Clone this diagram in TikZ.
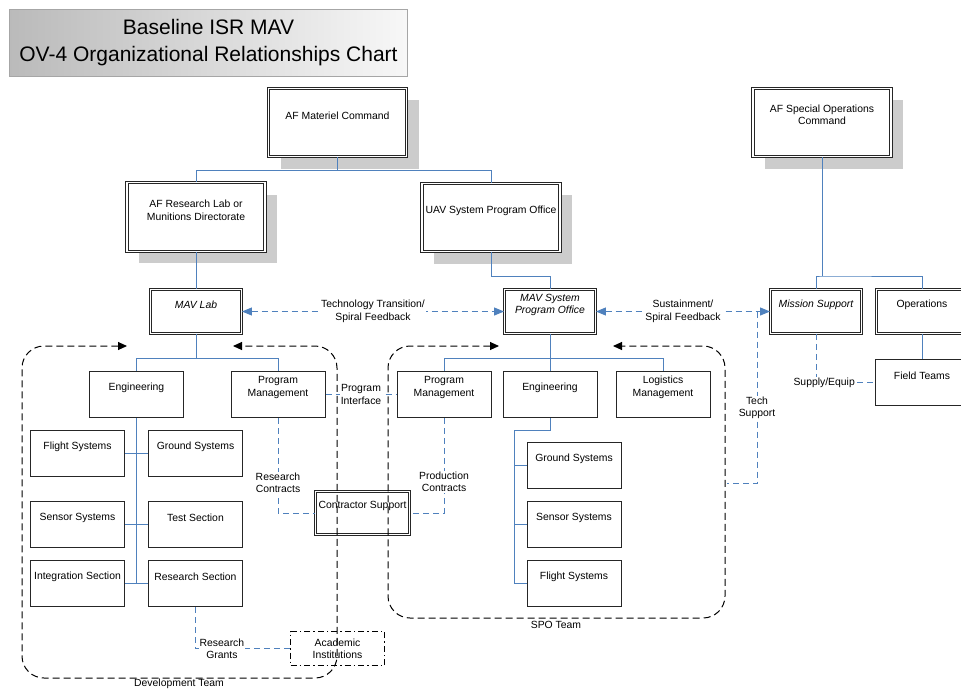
\documentclass[tikz,border=0pt]{standalone}
\usepackage{fontspec}
\setmainfont{Liberation Sans}
\usetikzlibrary{arrows.meta,shadows}
\definecolor{orgblue}{RGB}{79,129,189}
\definecolor{shadowgray}{RGB}{204,204,204}
\begin{document}
\begin{tikzpicture}[x=1pt,y=-1pt,
 every node/.style={font=\fontsize{10.4}{12.4}\selectfont},
 txt/.style={anchor=center, align=center, inner sep=0pt},
 ittxt/.style={txt, font=\fontsize{10.4}{12.4}\selectfont\itshape},
 dbl/.style={draw=black!85, line width=0.9pt, double=white, double distance=1.3pt, fill=white, inner sep=0pt},
 bigbox/.style={dbl, minimum width=138pt, minimum height=68.5pt, drop shadow={shadow xshift=12pt, shadow yshift=-12pt, fill=shadowgray, opacity=1}},
 midbox/.style={dbl, minimum width=91pt, minimum height=44pt},
 sbox/.style={draw=black!85, line width=1pt, fill=white, minimum width=94pt, minimum height=46pt, inner sep=0pt},
 org/.style={draw=orgblue, line width=1pt},
 rel/.style={draw=orgblue, line width=1pt, dash pattern=on 6pt off 4pt},
 relarr/.style={rel, {Triangle[length=10pt,width=8pt]}-{Triangle[length=10pt,width=8pt]}},
 rlab/.style={fill=white, inner sep=1pt, align=center},
 team/.style={draw=black, line width=1pt, dash pattern=on 7pt off 4pt, rounded corners=22pt, {Triangle[length=9pt,width=8pt]}-{Triangle[length=9pt,width=8pt]}},
 acadbox/.style={draw=black, line width=1pt, dash pattern=on 6pt off 3pt on 1.5pt off 3pt, fill=white, minimum width=94pt, minimum height=34pt, align=center, inner sep=0pt},
]
\useasboundingbox (0,0) rectangle (961,689);

% title
\node[draw=black!35, line width=0.8pt, left color=black!27, right color=black!3, minimum width=398pt, minimum height=67pt, align=center, font=\fontsize{21}{27}\selectfont] (title) at (208.5,43) {Baseline ISR MAV\\OV-4 Organizational Relationships Chart};

% big boxes
\node[bigbox, label={[txt,yshift=-28pt]north:AF Materiel Command}] (amc) at (337.5,122.5) {};
\node[bigbox, label={[txt,yshift=-28pt]north:{AF Research Lab or\\Munitions Directorate}}] (arl) at (196,217) {};
\node[bigbox, label={[txt,yshift=-28pt]north:UAV System Program Office}] (uav) at (491,217.5) {};
\node[bigbox, label={[txt,yshift=-27pt]north:{AF Special Operations\\Command}}] (afsoc) at (822,122.5) {};

% mid boxes
\node[midbox, label={[ittxt,yshift=-16pt]north:MAV Lab}] (mavlab) at (196,311.5) {};
\node[midbox, label={[ittxt,yshift=-16pt]north:{MAV System\\Program Office}}] (mavspo) at (550,311.5) {};
\node[midbox, label={[ittxt,yshift=-16pt]north:Mission Support}] (missup) at (816,311.5) {};
\node[midbox, label={[txt,yshift=-16pt]north:Operations}] (ops) at (922,311.5) {};
\node[dbl, minimum width=94pt, minimum height=43pt, label={[txt,yshift=-15pt]north:Contractor Support}] (contr) at (362.5,513) {};
\node[sbox, label={[txt,yshift=-16.5pt]north:Field Teams}] (field) at (922,382.5) {};

% development side
\node[sbox, label={[txt,yshift=-16.5pt]north:Engineering}] (leng) at (136.5,394.5) {};
\node[sbox, label={[txt,yshift=-16.5pt]north:{Program\\Management}}] (lpm) at (278,394.5) {};
\node[sbox, label={[txt,yshift=-16.5pt]north:Flight Systems}] (lflight) at (77.5,453.5) {};
\node[sbox, label={[txt,yshift=-16.5pt]north:Ground Systems}] (lground) at (195.5,453.5) {};
\node[sbox, label={[txt,yshift=-16.5pt]north:Sensor Systems}] (lsensor) at (77.5,524.5) {};
\node[sbox, label={[txt,yshift=-16.5pt]north:Test Section}] (ltest) at (195.5,524.5) {};
\node[sbox, label={[txt,yshift=-16.5pt]north:Integration Section}] (linteg) at (77.5,583.5) {};
\node[sbox, label={[txt,yshift=-16.5pt]north:Research Section}] (lresearch) at (195.5,583.5) {};
\node[acadbox] (acad) at (337.5,648.5) {Academic\\Institutions};

% SPO side
\node[sbox, label={[txt,yshift=-16.5pt]north:{Program\\Management}}] (spm) at (444,394.5) {};
\node[sbox, label={[txt,yshift=-16.5pt]north:Engineering}] (seng) at (550,394.5) {};
\node[sbox, label={[txt,yshift=-16.5pt]north:{Logistics\\Management}}] (slog) at (663,394.5) {};
\node[sbox, label={[txt,yshift=-16.5pt]north:Ground Systems}] (sground) at (574,465.5) {};
\node[sbox, label={[txt,yshift=-16.5pt]north:Sensor Systems}] (ssensor) at (574,524.5) {};
\node[sbox, label={[txt,yshift=-16.5pt]north:Flight Systems}] (sflight) at (574,583.5) {};

% org lines
\coordinate (j1) at (337.5,170);
\draw[org] (amc.south) -- (j1) -| (arl.north);
\draw[org] (j1) -| (uav.north);
\draw[org] (arl.south) -- (mavlab.north);
\coordinate (j2) at (550,276);
\draw[org] (uav.south) |- (j2) -- (mavspo.north);
\coordinate (j3) at (822,276);
\draw[org] (afsoc.south) -- (j3);
\draw[org] (missup.north) |- (j3) -| (ops.north);
\draw[org] (ops.south) -- (field.north);
\coordinate (j4) at (196,358);
\draw[org] (mavlab.south) -- (j4) -| (leng.north);
\draw[org] (j4) -| (lpm.north);
\draw[org] (leng.south) -- (leng.south |- linteg.east);
\draw[org] (lflight.east) -- (lground.west);
\draw[org] (lsensor.east) -- (ltest.west);
\draw[org] (linteg.east) -- (lresearch.west);
\coordinate (j5) at (550,358);
\draw[org] (mavspo.south) -- (j5) -| (spm.north);
\draw[org] (j5) -| (slog.north);
\draw[org] (j5) -- (seng.north);
\coordinate (j7) at (514,430);
\draw[org] (seng.south) |- (j7) -- (j7 |- sflight.west) -- (sflight.west);
\draw[org] (j7 |- sground.west) -- (sground.west);
\draw[org] (j7 |- ssensor.west) -- (ssensor.west);

% relationships
\draw[relarr] (mavlab.east) -- node[rlab]{Technology Transition/\\Spiral Feedback} (mavspo.west);
\draw[relarr] (mavspo.east) -- node[rlab]{Sustainment/\\Spiral Feedback} (missup.west);
\coordinate (ts1) at (757,311.5);
\coordinate (ts2) at (727,483);
\draw[rel] (ts1) |- node[rlab,pos=0.28]{Tech\\Support} (ts2);
\draw[rel] (missup.south) |- node[rlab,pos=0.57]{Supply/Equip} (field.west);
\draw[rel] (lpm.east) -- node[rlab]{Program\\Interface} (spm.west);
\draw[rel] (lpm.south) |- node[rlab,pos=0.34]{Research\\Contracts} (contr.west);
\draw[rel] (spm.south) |- node[rlab,pos=0.335]{Production\\Contracts} (contr.east);
\draw[rel] (lresearch.south) |- node[rlab,pos=0.64]{Research\\Grants} (acad.west);

% teams
\draw[team] (127,346) -- (22,346) -- (22,678) -- (337,678) -- (337,346) -- (233,346);
\node[inner sep=0pt] (devlab) at (179,684) {Development Team};
\draw[team] (499,346) -- (388,346) -- (388,618) -- (725,618) -- (725,346) -- (613,346);
\node[inner sep=0pt] (spolab) at (556,625) {SPO Team};
\end{tikzpicture}
\end{document}
